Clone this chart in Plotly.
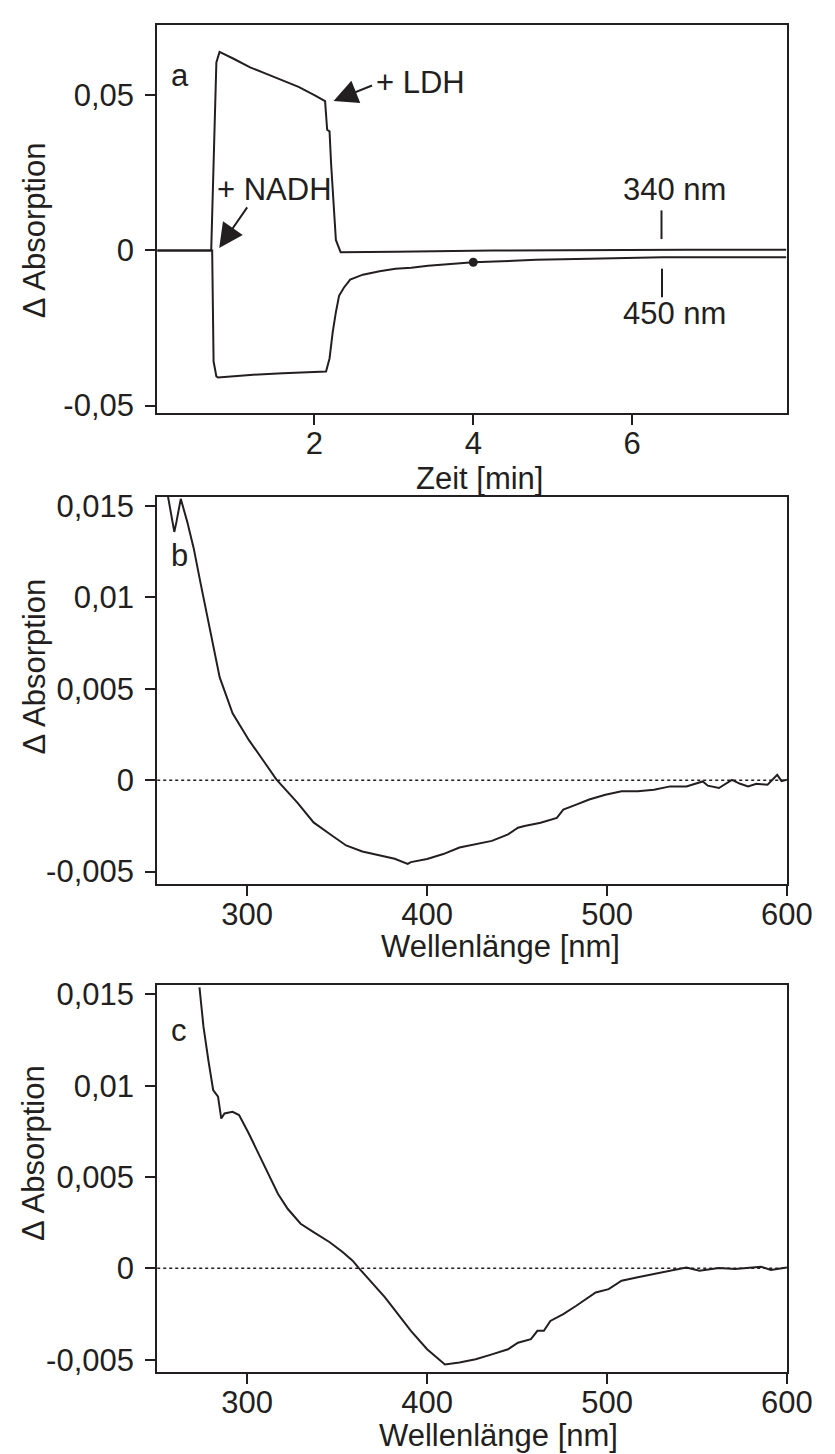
import plotly.graph_objects as go

# ---------- Panel a: time course ----------
t_340 = [0.02, 0.35, 0.70, 0.765, 0.805, 0.988, 1.19, 1.395, 1.60, 1.80, 2.005, 2.134,
         2.16, 2.19, 2.21, 2.25, 2.27, 2.33, 2.45, 2.82, 3.02, 4.24, 5.46, 6.68, 7.94]
a_340 = [0.0, 0.0001, 0.0, 0.0606, 0.0640, 0.0617, 0.0590, 0.0569, 0.0548, 0.0527, 0.0500, 0.0481,
         0.0389, 0.0384, 0.0278, 0.0119, 0.0034, -0.0006, -0.0006, -0.0004, -0.0004, 0.0, 0.0002, 0.0002, 0.0002]

t_450 = [0.02, 0.35, 0.712, 0.73, 0.765, 0.785, 1.19, 1.60, 2.146, 2.19, 2.23, 2.27, 2.31, 2.37,
         2.45, 2.61, 2.82, 3.02, 3.22, 3.43, 4.0, 4.36, 4.79, 5.46, 6.15, 6.39, 7.94]
a_450 = [0.0, 0.0001, 0.0, -0.0358, -0.0406, -0.0409, -0.0401, -0.0396, -0.0390, -0.0348, -0.0263, -0.0199,
         -0.0146, -0.0120, -0.0094, -0.0078, -0.0067, -0.0059, -0.0056, -0.0049, -0.0038, -0.0035, -0.0030,
         -0.0027, -0.0024, -0.0022, -0.0022]

dot_t = [4.0]
dot_a = [-0.0038]

a_xticks = [2, 4, 6]
a_yticks = [-0.05, 0, 0.05]
a_yticktext = ["-0,05", "0", "0,05"]

# ---------- Panel b: difference spectrum ----------
wl_b = [255.9, 257.7, 259.5, 260.7, 263.1, 266.7, 270.3, 273.9, 277.5, 281.1, 284.7, 291.9, 300.9,
        309.9, 316.2, 327.9, 336.9, 345.9, 355.0, 364.0, 373.0, 382.0, 389.2, 391.0, 400.0, 409.0,
        418.0, 427.0, 436.0, 445.0, 450.5, 454.1, 463.1, 472.1, 475.7, 482.9, 490.1, 499.1, 508.1,
        517.1, 526.1, 535.1, 544.1, 553.2, 556.0, 562.2, 569.4, 574.0, 578.4, 583.0, 589.2, 594.6, 597.0, 600.0]
abs_b = [0.01556, 0.01448, 0.01357, 0.01412, 0.01538, 0.01412, 0.01267, 0.01087, 0.00906, 0.00726,
         0.00563, 0.00365, 0.00220, 0.00094, 0.00004, -0.00123, -0.00231, -0.00294, -0.00357, -0.00390,
         -0.00408, -0.00430, -0.00458, -0.00448, -0.00431, -0.00404, -0.00368, -0.00350, -0.00332,
         -0.00296, -0.00260, -0.00251, -0.00233, -0.00206, -0.00161, -0.00134, -0.00106, -0.00080,
         -0.00061, -0.00061, -0.00052, -0.00034, -0.00034, -0.00007, -0.00030, -0.00043, 0.00002,
         -0.00020, -0.00034, -0.00020, -0.00025, 0.00029, -0.00005, 0.00002]

# ---------- Panel c: difference spectrum ----------
wl_c = [273.5, 275.7, 278.4, 281.1, 283.8, 285.6, 287.4, 291.9, 295.5, 300.9, 306.3, 311.7, 317.1,
        322.5, 329.7, 336.9, 345.9, 353.2, 358.6, 362.2, 369.4, 376.6, 383.8, 391.0, 400.0, 409.9,
        418.0, 427.0, 436.0, 445.0, 450.5, 457.7, 461.3, 464.9, 468.5, 475.7, 482.9, 490.1, 493.7,
        500.9, 508.1, 517.1, 526.1, 535.1, 544.1, 551.4, 562.2, 571.2, 580.2, 585.6, 591.0, 600.0]
abs_c = [0.01538, 0.01324, 0.01141, 0.00976, 0.00940, 0.00820, 0.00848, 0.00857, 0.00839, 0.00738,
         0.00628, 0.00518, 0.00408, 0.00326, 0.00244, 0.00198, 0.00143, 0.00088, 0.00042, 0.0,
         -0.00077, -0.00159, -0.00251, -0.00342, -0.00443, -0.00526, -0.00516, -0.00498, -0.00471,
         -0.00443, -0.00407, -0.00388, -0.00342, -0.00342, -0.00288, -0.00251, -0.00205, -0.00159,
         -0.00132, -0.00114, -0.00068, -0.00049, -0.00031, -0.00013, 0.00005, -0.00013, 0.00002,
         -0.00004, 0.00002, 0.00009, -0.00009, 0.00005]

spec_xticks = [300, 400, 500, 600]
spec_yticks = [-0.005, 0, 0.005, 0.01, 0.015]
spec_yticktext = ["-0,005", "0", "0,005", "0,01", "0,015"]

# ---------- figure ----------
W, H = 835, 1454
INK = "#231f20"
FONT = "Arial, Liberation Sans, sans-serif"
FS = 31


def px(x):
    return x / W


def py(y):
    return 1 - y / H


fig = go.Figure()
line_style = dict(color=INK, width=2)
fig.add_trace(go.Scatter(x=t_340, y=a_340, mode="lines", line=line_style, xaxis="x", yaxis="y"))
fig.add_trace(go.Scatter(x=t_450, y=a_450, mode="lines", line=line_style, xaxis="x", yaxis="y"))
fig.add_trace(go.Scatter(x=dot_t, y=dot_a, mode="markers", marker=dict(color=INK, size=9),
                         xaxis="x", yaxis="y"))
fig.add_trace(go.Scatter(x=wl_b, y=abs_b, mode="lines", line=line_style, xaxis="x2", yaxis="y2"))
fig.add_trace(go.Scatter(x=wl_c, y=abs_c, mode="lines", line=line_style, xaxis="x3", yaxis="y3"))

axis_common = dict(showline=True, mirror=True, linewidth=2, linecolor=INK, ticks="outside",
                   ticklen=10, tickwidth=2, tickcolor=INK, showgrid=False, zeroline=False,
                   tickfont=dict(family=FONT, size=FS, color=INK))
xdom = [px(154), px(804)]
XSO = -8   # pull x tick labels up towards the axis
YSO = 5

fig.update_layout(
    width=W, height=H, margin=dict(l=0, r=0, t=0, b=0),
    paper_bgcolor="white", plot_bgcolor="white", showlegend=False,
    font=dict(family=FONT, size=FS, color=INK),
    xaxis=dict(domain=xdom, anchor="y", range=[0.02, 7.95], tickvals=a_xticks,
               ticklabelstandoff=XSO, **axis_common),
    yaxis=dict(domain=[py(402), py(9)], anchor="x", range=[-0.0523, 0.0727],
               tickvals=a_yticks, ticktext=a_yticktext, ticklabelstandoff=YSO, **axis_common),
    xaxis2=dict(domain=xdom, anchor="y2", range=[250, 600], tickvals=spec_xticks,
                ticklabelstandoff=XSO, **axis_common),
    yaxis2=dict(domain=[py(879), py(487)], anchor="x2", range=[-0.00565, 0.0155],
                tickvals=spec_yticks, ticktext=spec_yticktext, ticklabelstandoff=YSO, **axis_common),
    xaxis3=dict(domain=xdom, anchor="y3", range=[250, 600], tickvals=spec_xticks,
                ticklabelstandoff=XSO, **axis_common),
    yaxis3=dict(domain=[py(1373.5), py(982)], anchor="x3", range=[-0.00565, 0.0155],
                tickvals=spec_yticks, ticktext=spec_yticktext, ticklabelstandoff=YSO, **axis_common),
)

# dotted zero lines in spectra
for ax in ["2", "3"]:
    fig.add_shape(type="line", xref=f"x{ax} domain", yref=f"y{ax}", x0=0, x1=1, y0=0, y1=0,
                  line=dict(color=INK, width=1.5, dash="dot"), layer="below")

# marker lines for 340 / 450 nm
fig.add_shape(type="line", xref="paper", yref="paper", x0=px(674.5), x1=px(674.5), y0=py(197), y1=py(226),
              line=dict(color=INK, width=2))
fig.add_shape(type="line", xref="paper", yref="paper", x0=px(675), x1=px(675), y0=py(256), y1=py(285),
              line=dict(color=INK, width=2))


def text(s, x, y, xanchor="center", angle=0):
    fig.add_annotation(text=s, x=px(x), y=py(y), xref="paper", yref="paper", showarrow=False,
                       xanchor=xanchor, yanchor="middle", textangle=angle,
                       font=dict(family=FONT, size=FS, color=INK))


def arrow(x_head, y_head, x_tail, y_tail):
    fig.add_annotation(text="", x=px(x_head), y=py(y_head), xref="paper", yref="paper",
                       ax=x_tail - x_head, ay=y_tail - y_head, showarrow=True,
                       arrowhead=2, arrowsize=2.4, arrowwidth=2, arrowcolor=INK)


text("a", 178, 60)
text("b", 177, 547)
text("c", 177, 1028)
text("+ LDH", 378, 67, xanchor="left")
text("+ NADH", 214, 176, xanchor="left")
text("340 nm", 688, 176)
text("450 nm", 688, 301)
arrow(336, 86, 376, 70)
arrow(218, 235, 247, 193)

text("Zeit [min]", 487, 469)
text("Wellenlänge [nm]", 508, 943)
text("Wellenlänge [nm]", 506, 1438)
text("Δ Absorption", 27, 217, angle=-90)
text("Δ Absorption", 27, 659, angle=-90)
text("Δ Absorption", 27, 1152, angle=-90)

fig.write_html("out.html")
